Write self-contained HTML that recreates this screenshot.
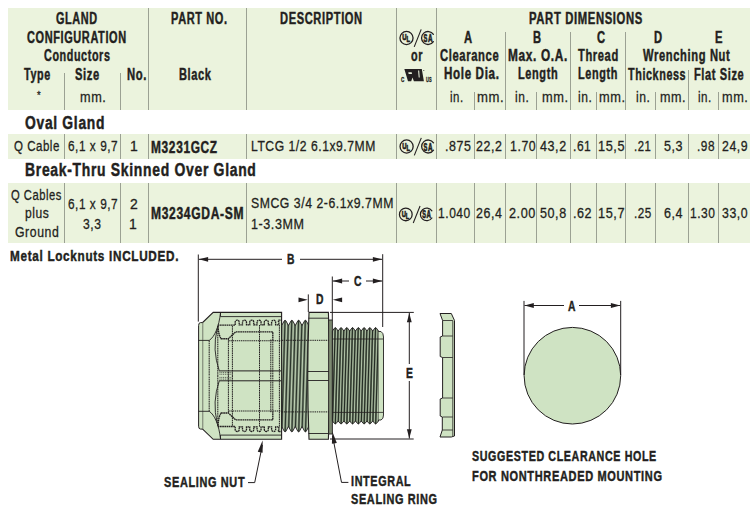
<!DOCTYPE html>
<html><head><meta charset="utf-8"><style>
html,body{margin:0;padding:0;background:#fff;width:756px;height:514px;overflow:hidden;position:relative}
body{font-family:"Liberation Sans",sans-serif;color:#231f20}
.t{position:absolute;white-space:nowrap;line-height:1;transform-origin:0 0;color:#231f20;-webkit-text-stroke:0.3px #231f20}
.t.b{-webkit-text-stroke:0.45px #231f20}
.bg{position:absolute;background:#ebf3dd}
.vl{position:absolute;width:1.2px;background:#9ba193}
svg{position:absolute;left:0;top:0}
</style></head><body>
<div class="bg" style="left:8px;top:8px;width:742px;height:102px"></div>
<div class="bg" style="left:8px;top:134px;width:742px;height:24.5px"></div>
<div class="bg" style="left:8px;top:183px;width:742px;height:59.5px"></div>
<div class="vl" style="left:64.0px;top:73px;height:37.0px"></div>
<div class="vl" style="left:120.1px;top:73px;height:37.0px"></div>
<div class="vl" style="left:148.0px;top:8px;height:102.0px"></div>
<div class="vl" style="left:246.0px;top:8px;height:102.0px"></div>
<div class="vl" style="left:396.1px;top:8px;height:102.0px"></div>
<div class="vl" style="left:436.1px;top:8px;height:102.0px"></div>
<div class="vl" style="left:473.5px;top:92px;height:18.0px"></div>
<div class="vl" style="left:504.7px;top:31.5px;height:78.5px"></div>
<div class="vl" style="left:535.8px;top:92px;height:18.0px"></div>
<div class="vl" style="left:569.9px;top:31.5px;height:78.5px"></div>
<div class="vl" style="left:595.5px;top:92px;height:18.0px"></div>
<div class="vl" style="left:625.1px;top:31.5px;height:78.5px"></div>
<div class="vl" style="left:654.5px;top:92px;height:18.0px"></div>
<div class="vl" style="left:687.7px;top:69.5px;height:40.5px"></div>
<div class="vl" style="left:717.5px;top:92px;height:18.0px"></div>
<div class="vl" style="left:64.0px;top:134px;height:24.5px"></div>
<div class="vl" style="left:64.0px;top:183px;height:59.5px"></div>
<div class="vl" style="left:120.1px;top:134px;height:24.5px"></div>
<div class="vl" style="left:120.1px;top:183px;height:59.5px"></div>
<div class="vl" style="left:148.0px;top:134px;height:24.5px"></div>
<div class="vl" style="left:148.0px;top:183px;height:59.5px"></div>
<div class="vl" style="left:246.0px;top:134px;height:24.5px"></div>
<div class="vl" style="left:246.0px;top:183px;height:59.5px"></div>
<div class="vl" style="left:396.1px;top:134px;height:24.5px"></div>
<div class="vl" style="left:396.1px;top:183px;height:59.5px"></div>
<div class="vl" style="left:436.1px;top:134px;height:24.5px"></div>
<div class="vl" style="left:436.1px;top:183px;height:59.5px"></div>
<div class="vl" style="left:473.5px;top:134px;height:24.5px"></div>
<div class="vl" style="left:473.5px;top:183px;height:59.5px"></div>
<div class="vl" style="left:504.7px;top:134px;height:24.5px"></div>
<div class="vl" style="left:504.7px;top:183px;height:59.5px"></div>
<div class="vl" style="left:535.8px;top:134px;height:24.5px"></div>
<div class="vl" style="left:535.8px;top:183px;height:59.5px"></div>
<div class="vl" style="left:569.9px;top:134px;height:24.5px"></div>
<div class="vl" style="left:569.9px;top:183px;height:59.5px"></div>
<div class="vl" style="left:595.5px;top:134px;height:24.5px"></div>
<div class="vl" style="left:595.5px;top:183px;height:59.5px"></div>
<div class="vl" style="left:625.1px;top:134px;height:24.5px"></div>
<div class="vl" style="left:625.1px;top:183px;height:59.5px"></div>
<div class="vl" style="left:654.5px;top:134px;height:24.5px"></div>
<div class="vl" style="left:654.5px;top:183px;height:59.5px"></div>
<div class="vl" style="left:687.7px;top:134px;height:24.5px"></div>
<div class="vl" style="left:687.7px;top:183px;height:59.5px"></div>
<div class="vl" style="left:717.5px;top:134px;height:24.5px"></div>
<div class="vl" style="left:717.5px;top:183px;height:59.5px"></div>
<svg width="756" height="514" viewBox="0 0 756 514">
<g transform="translate(406.5,38.0) scale(1.0)"><circle cx="0" cy="0" r="6.55" stroke-width="1.3" fill="none" stroke="#231f20"/><text transform="translate(-4.3,2.4) scale(0.62,1)" font-family="Liberation Sans" font-weight="bold" font-size="9.6" fill="#231f20" stroke="#231f20" stroke-width="0.7">U</text><text transform="translate(0.0,4.3) scale(0.6,1)" font-family="Liberation Sans" font-weight="bold" font-size="9.6" fill="#231f20" stroke="#231f20" stroke-width="0.7">L</text><path d="M14.7,-8.6 L7.7,8.9" stroke-width="1.1" fill="none" stroke="#231f20"/><path d="M26.9,-3.7 A6.5,6.5 0 1 0 26.9,3.7" stroke-width="1.3" stroke-linecap="round" fill="none" stroke="#231f20"/><text transform="translate(17.0,4.0) scale(0.5,1)" font-family="Liberation Sans" font-weight="bold" font-size="11.5" fill="#231f20" stroke="#231f20" stroke-width="0.7">S</text><text transform="translate(21.4,4.0) scale(0.55,1)" font-family="Liberation Sans" font-weight="bold" font-size="11.5" fill="#231f20" stroke="#231f20" stroke-width="0.7">A</text></g>
<path d="M404.35,69 H421.8 L423.9,81.2 H413.9 L412.5,77.5 L411.2,81.2 H408 Z" fill="#231f20"/><path d="M408.3,72.2 H411.6 Q412.3,73.1 411.8,74.1 H408.6 Z M418.1,70.6 H419.2 L419.7,77.5 H418.7 Z" fill="#ebf3dd"/><circle cx="423.8" cy="70.4" r="0.5" fill="#231f20"/><text x="401.2" y="81.6" font-family="Liberation Sans" font-weight="bold" font-size="7.3" fill="#231f20" stroke="#231f20" stroke-width="0.35" transform="translate(401,0) scale(0.62,1) translate(-401,0)">C</text><text x="426.2" y="81.6" font-family="Liberation Sans" font-weight="bold" font-size="7.3" fill="#231f20" stroke="#231f20" stroke-width="0.3" transform="translate(426,0) scale(0.55,1) translate(-426,0)">US</text>
<g transform="translate(406.6,146.5) scale(1.0)"><circle cx="0" cy="0" r="6.55" stroke-width="1.3" fill="none" stroke="#231f20"/><text transform="translate(-4.3,2.4) scale(0.62,1)" font-family="Liberation Sans" font-weight="bold" font-size="9.6" fill="#231f20" stroke="#231f20" stroke-width="0.7">U</text><text transform="translate(0.0,4.3) scale(0.6,1)" font-family="Liberation Sans" font-weight="bold" font-size="9.6" fill="#231f20" stroke="#231f20" stroke-width="0.7">L</text><path d="M14.7,-8.6 L7.7,8.9" stroke-width="1.1" fill="none" stroke="#231f20"/><path d="M26.9,-3.7 A6.5,6.5 0 1 0 26.9,3.7" stroke-width="1.3" stroke-linecap="round" fill="none" stroke="#231f20"/><text transform="translate(17.0,4.0) scale(0.5,1)" font-family="Liberation Sans" font-weight="bold" font-size="11.5" fill="#231f20" stroke="#231f20" stroke-width="0.7">S</text><text transform="translate(21.4,4.0) scale(0.55,1)" font-family="Liberation Sans" font-weight="bold" font-size="11.5" fill="#231f20" stroke="#231f20" stroke-width="0.7">A</text></g>
<g transform="translate(405.8,214.4) scale(0.97)"><circle cx="0" cy="0" r="6.55" stroke-width="1.3" fill="none" stroke="#231f20"/><text transform="translate(-4.3,2.4) scale(0.62,1)" font-family="Liberation Sans" font-weight="bold" font-size="9.6" fill="#231f20" stroke="#231f20" stroke-width="0.7">U</text><text transform="translate(0.0,4.3) scale(0.6,1)" font-family="Liberation Sans" font-weight="bold" font-size="9.6" fill="#231f20" stroke="#231f20" stroke-width="0.7">L</text><path d="M14.7,-8.6 L7.7,8.9" stroke-width="1.1" fill="none" stroke="#231f20"/><path d="M26.9,-3.7 A6.5,6.5 0 1 0 26.9,3.7" stroke-width="1.3" stroke-linecap="round" fill="none" stroke="#231f20"/><text transform="translate(17.0,4.0) scale(0.5,1)" font-family="Liberation Sans" font-weight="bold" font-size="11.5" fill="#231f20" stroke="#231f20" stroke-width="0.7">S</text><text transform="translate(21.4,4.0) scale(0.55,1)" font-family="Liberation Sans" font-weight="bold" font-size="11.5" fill="#231f20" stroke="#231f20" stroke-width="0.7">A</text></g>
<path d="M213.2,312.4 H281.6 V439.3 H213.2 L202.6,429.1 V322.6 Z" fill="#cfe3c3" stroke="#231f20" stroke-width="1.1"/>
<path d="M202.6,322.6 H200.6 Q198.6,322.6 198.6,325.5 V426.2 Q198.6,429.1 200.6,429.1 H202.6" fill="#cfe3c3" stroke="#231f20" stroke-width="1"/>
<g><path d="M220.5,312.6 V316.6 H281.6" fill="none" stroke="#231f20" stroke-width="0.9"/><path d="M198.6,340.4 H209.2 C214.5,337 219,327 220.5,312.6" fill="none" stroke="#231f20" stroke-width="0.9"/><path d="M217.8,325.2 H235.2 V322 Q235.39999999999998,320.2 237.2,320.2 Q239.0,320.2 239.2,322 V324.8 H242.48 V322 Q242.67999999999998,320.2 244.48,320.2 Q246.28,320.2 246.48,322 V324.8 H249.76 V322 Q249.95999999999998,320.2 251.76,320.2 Q253.56,320.2 253.76,322 V324.8 H257.03999999999996 V322 Q257.23999999999995,320.2 259.03999999999996,320.2 Q260.84,320.2 261.03999999999996,322 V324.8 H264.31999999999994 V322 Q264.5199999999999,320.2 266.31999999999994,320.2 Q268.11999999999995,320.2 268.31999999999994,322 V324.8 H271.5999999999999 V322 Q271.7999999999999,320.2 273.5999999999999,320.2 Q275.3999999999999,320.2 275.5999999999999,322 V324.8 H278.8799999999999 V322 Q277.4,320.2 279.2,320.2 H281.6" fill="none" stroke="#231f20" stroke-width="1.3" stroke-dasharray="1.7,0.5"/><path d="M218,325.9 Q218.5,335 221.1,338.7 H228.4 L235.7,331.8 H272.8 V339.8" fill="none" stroke="#231f20" stroke-width="1.35" stroke-dasharray="1.7,0.5"/><path d="M228.4,340.7 H281.6" fill="none" stroke="#231f20" stroke-width="1.1" stroke-dasharray="1.4,0.7"/><path d="M209.2,340.4 V375.9 M217.8,326 V375.9 M228.4,339 V375.9 M232.4,326 V375.9 M259.5,325 V375.9 M270.8,339.5 V375.9 M272.8,339.5 V375.9 M279.4,325 V375.9" fill="none" stroke="#231f20" stroke-width="1" stroke-dasharray="1.6,0.6"/><path d="M217.2,328.5 Q212,350 219.2,370.6" fill="none" stroke="#231f20" stroke-width="0.9"/><path d="M219,370.9 H281.6" fill="none" stroke="#231f20" stroke-width="1"/><path d="M219.5,372.6 H232.4 M219.5,374.3 H232.4" fill="none" stroke="#231f20" stroke-width="0.7" stroke-dasharray="1,0.8"/></g>
<g transform="matrix(1,0,0,-1,0,751.7)"><path d="M220.5,312.6 V316.6 H281.6" fill="none" stroke="#231f20" stroke-width="0.9"/><path d="M198.6,340.4 H209.2 C214.5,337 219,327 220.5,312.6" fill="none" stroke="#231f20" stroke-width="0.9"/><path d="M217.8,325.2 H235.2 V322 Q235.39999999999998,320.2 237.2,320.2 Q239.0,320.2 239.2,322 V324.8 H242.48 V322 Q242.67999999999998,320.2 244.48,320.2 Q246.28,320.2 246.48,322 V324.8 H249.76 V322 Q249.95999999999998,320.2 251.76,320.2 Q253.56,320.2 253.76,322 V324.8 H257.03999999999996 V322 Q257.23999999999995,320.2 259.03999999999996,320.2 Q260.84,320.2 261.03999999999996,322 V324.8 H264.31999999999994 V322 Q264.5199999999999,320.2 266.31999999999994,320.2 Q268.11999999999995,320.2 268.31999999999994,322 V324.8 H271.5999999999999 V322 Q271.7999999999999,320.2 273.5999999999999,320.2 Q275.3999999999999,320.2 275.5999999999999,322 V324.8 H278.8799999999999 V322 Q277.4,320.2 279.2,320.2 H281.6" fill="none" stroke="#231f20" stroke-width="1.3" stroke-dasharray="1.7,0.5"/><path d="M218,325.9 Q218.5,335 221.1,338.7 H228.4 L235.7,331.8 H272.8 V339.8" fill="none" stroke="#231f20" stroke-width="1.35" stroke-dasharray="1.7,0.5"/><path d="M228.4,340.7 H281.6" fill="none" stroke="#231f20" stroke-width="1.1" stroke-dasharray="1.4,0.7"/><path d="M209.2,340.4 V375.9 M217.8,326 V375.9 M228.4,339 V375.9 M232.4,326 V375.9 M259.5,325 V375.9 M270.8,339.5 V375.9 M272.8,339.5 V375.9 M279.4,325 V375.9" fill="none" stroke="#231f20" stroke-width="1" stroke-dasharray="1.6,0.6"/><path d="M217.2,328.5 Q212,350 219.2,370.6" fill="none" stroke="#231f20" stroke-width="0.9"/><path d="M219,370.9 H281.6" fill="none" stroke="#231f20" stroke-width="1"/><path d="M219.5,372.6 H232.4 M219.5,374.3 H232.4" fill="none" stroke="#231f20" stroke-width="0.7" stroke-dasharray="1,0.8"/></g>
<clipPath id="c281"><path d="M281.7,325.5 L284.41,320.6 Q285.09,320.0 285.76,320.6 L288.48,325.5 L291.19,320.6 Q291.86,320.0 292.54,320.6 L295.25,325.5 L297.96,320.6 Q298.64,320.0 299.31,320.6 L302.02,325.5 L304.73,320.6 Q305.41,320.0 306.09,320.6 L308.80,325.5 L308.8,426.5 L306.09,431.5 Q305.41,432.1 304.74,431.5 L302.02,426.5 L299.31,431.5 Q298.64,432.1 297.96,431.5 L295.25,426.5 L292.54,431.5 Q291.86,432.1 291.19,431.5 L288.48,426.5 L285.77,431.5 Q285.09,432.1 284.41,431.5 L281.70,426.5 Z"/></clipPath><path d="M281.7,325.5 L284.41,320.6 Q285.09,320.0 285.76,320.6 L288.48,325.5 L291.19,320.6 Q291.86,320.0 292.54,320.6 L295.25,325.5 L297.96,320.6 Q298.64,320.0 299.31,320.6 L302.02,325.5 L304.73,320.6 Q305.41,320.0 306.09,320.6 L308.80,325.5 L308.8,426.5 L306.09,431.5 Q305.41,432.1 304.74,431.5 L302.02,426.5 L299.31,431.5 Q298.64,432.1 297.96,431.5 L295.25,426.5 L292.54,431.5 Q291.86,432.1 291.19,431.5 L288.48,426.5 L285.77,431.5 Q285.09,432.1 284.41,431.5 L281.70,426.5 Z" fill="#76856f"/><g clip-path="url(#c281)"><path d=" M273.23,318.3 L269.84,433.8 M276.62,318.3 L273.23,433.8 M280.01,318.3 L276.62,433.8 M283.39,318.3 L280.01,433.8 M286.78,318.3 L283.39,433.8 M290.17,318.3 L286.78,433.8 M293.56,318.3 L290.17,433.8 M296.94,318.3 L293.56,433.8 M300.33,318.3 L296.94,433.8 M303.72,318.3 L300.33,433.8 M307.11,318.3 L303.72,433.8 M310.49,318.3 L307.11,433.8 M313.88,318.3 L310.49,433.8 M317.27,318.3 L313.88,433.8 M320.66,318.3 L317.27,433.8 M324.04,318.3 L320.66,433.8" stroke="#cfe2c5" stroke-width="0.8" fill="none"/><path d=" M271.54,318.3 L268.15,433.8 M274.92,318.3 L271.54,433.8 M278.31,318.3 L274.92,433.8 M281.70,318.3 L278.31,433.8 M285.09,318.3 L281.70,433.8 M288.47,318.3 L285.09,433.8 M291.86,318.3 L288.48,433.8 M295.25,318.3 L291.86,433.8 M298.64,318.3 L295.25,433.8 M302.02,318.3 L298.64,433.8 M305.41,318.3 L302.02,433.8 M308.80,318.3 L305.41,433.8 M312.19,318.3 L308.80,433.8 M315.57,318.3 L312.19,433.8 M318.96,318.3 L315.58,433.8 M322.35,318.3 L318.96,433.8" stroke="#29332a" stroke-width="1" fill="none"/></g><path d="M281.7,325.5 L284.41,320.6 Q285.09,320.0 285.76,320.6 L288.48,325.5 L291.19,320.6 Q291.86,320.0 292.54,320.6 L295.25,325.5 L297.96,320.6 Q298.64,320.0 299.31,320.6 L302.02,325.5 L304.73,320.6 Q305.41,320.0 306.09,320.6 L308.80,325.5 L308.8,426.5 L306.09,431.5 Q305.41,432.1 304.74,431.5 L302.02,426.5 L299.31,431.5 Q298.64,432.1 297.96,431.5 L295.25,426.5 L292.54,431.5 Q291.86,432.1 291.19,431.5 L288.48,426.5 L285.77,431.5 Q285.09,432.1 284.41,431.5 L281.70,426.5 Z" fill="none" stroke="#231f20" stroke-width="0.9" stroke-linejoin="round"/>
<path d="M309,312.4 H328.4 Q331,376 328.4,439.3 H309 Q306.5,376 309,312.4 Z" fill="#cfe3c3" stroke="#231f20" stroke-width="1.1"/>
<path d="M308.5,318.2 H329 M308.5,433.5 H329 M308,371.5 H330 M308,380.5 H330" fill="none" stroke="#231f20" stroke-width="0.9"/>
<path d="M281.6,340.3 H332 M281.6,411.9 H332" fill="none" stroke="#231f20" stroke-width="1" stroke-dasharray="1.4,0.8"/>
<path d="M328.6,320 H332.4 V434 H328.6 Z" fill="#7d8a72" stroke="#231f20" stroke-width="0.9"/>
<clipPath id="c332"><path d="M332.4,331 L334.70,327.90000000000003 Q335.28,327.3 335.86,327.90000000000003 L338.16,331 L340.47,327.90000000000003 Q341.04,327.3 341.62,327.90000000000003 L343.92,331 L346.23,327.90000000000003 Q346.81,327.3 347.38,327.90000000000003 L349.69,331 L351.99,327.90000000000003 Q352.57,327.3 353.14,327.90000000000003 L355.45,331 L357.75,327.90000000000003 Q358.33,327.3 358.91,327.90000000000003 L361.21,331 L363.52,327.90000000000003 Q364.09,327.3 364.67,327.90000000000003 L366.97,331 L369.28,327.90000000000003 Q369.86,327.3 370.43,327.90000000000003 L372.74,331 L375.04,327.90000000000003 Q375.62,327.3 376.19,327.90000000000003 L378.50,331 L378.5,421 L376.19,423.7 Q375.62,424.3 375.04,423.7 L372.74,421 L370.43,423.7 Q369.86,424.3 369.28,423.7 L366.98,421 L364.67,423.7 Q364.09,424.3 363.52,423.7 L361.21,421 L358.91,423.7 Q358.33,424.3 357.75,423.7 L355.45,421 L353.14,423.7 Q352.57,424.3 351.99,423.7 L349.69,421 L347.38,423.7 Q346.81,424.3 346.23,423.7 L343.93,421 L341.62,423.7 Q341.04,424.3 340.47,423.7 L338.16,421 L335.86,423.7 Q335.28,424.3 334.70,423.7 L332.40,421 Z"/></clipPath><path d="M332.4,331 L334.70,327.90000000000003 Q335.28,327.3 335.86,327.90000000000003 L338.16,331 L340.47,327.90000000000003 Q341.04,327.3 341.62,327.90000000000003 L343.92,331 L346.23,327.90000000000003 Q346.81,327.3 347.38,327.90000000000003 L349.69,331 L351.99,327.90000000000003 Q352.57,327.3 353.14,327.90000000000003 L355.45,331 L357.75,327.90000000000003 Q358.33,327.3 358.91,327.90000000000003 L361.21,331 L363.52,327.90000000000003 Q364.09,327.3 364.67,327.90000000000003 L366.97,331 L369.28,327.90000000000003 Q369.86,327.3 370.43,327.90000000000003 L372.74,331 L375.04,327.90000000000003 Q375.62,327.3 376.19,327.90000000000003 L378.50,331 L378.5,421 L376.19,423.7 Q375.62,424.3 375.04,423.7 L372.74,421 L370.43,423.7 Q369.86,424.3 369.28,423.7 L366.98,421 L364.67,423.7 Q364.09,424.3 363.52,423.7 L361.21,421 L358.91,423.7 Q358.33,424.3 357.75,423.7 L355.45,421 L353.14,423.7 Q352.57,424.3 351.99,423.7 L349.69,421 L347.38,423.7 Q346.81,424.3 346.23,423.7 L343.93,421 L341.62,423.7 Q341.04,424.3 340.47,423.7 L338.16,421 L335.86,423.7 Q335.28,424.3 334.70,423.7 L332.40,421 Z" fill="#66745f"/><g clip-path="url(#c332)"><path d=" M325.20,325.6 L322.32,426 M328.08,325.6 L325.20,426 M330.96,325.6 L328.08,426 M333.84,325.6 L330.96,426 M336.72,325.6 L333.84,426 M339.60,325.6 L336.72,426 M342.48,325.6 L339.60,426 M345.37,325.6 L342.48,426 M348.25,325.6 L345.37,426 M351.13,325.6 L348.25,426 M354.01,325.6 L351.13,426 M356.89,325.6 L354.01,426 M359.77,325.6 L356.89,426 M362.65,325.6 L359.77,426 M365.53,325.6 L362.65,426 M368.42,325.6 L365.53,426 M371.30,325.6 L368.42,426 M374.18,325.6 L371.30,426 M377.06,325.6 L374.18,426 M379.94,325.6 L377.06,426 M382.82,325.6 L379.94,426 M385.70,325.6 L382.82,426 M388.58,325.6 L385.70,426 M391.47,325.6 L388.58,426" stroke="#c4d7ba" stroke-width="0.8" fill="none"/><path d=" M323.76,325.6 L320.88,426 M326.64,325.6 L323.76,426 M329.52,325.6 L326.64,426 M332.40,325.6 L329.52,426 M335.28,325.6 L332.40,426 M338.16,325.6 L335.28,426 M341.04,325.6 L338.16,426 M343.93,325.6 L341.04,426 M346.81,325.6 L343.92,426 M349.69,325.6 L346.81,426 M352.57,325.6 L349.69,426 M355.45,325.6 L352.57,426 M358.33,325.6 L355.45,426 M361.21,325.6 L358.33,426 M364.09,325.6 L361.21,426 M366.98,325.6 L364.09,426 M369.86,325.6 L366.98,426 M372.74,325.6 L369.86,426 M375.62,325.6 L372.74,426 M378.50,325.6 L375.62,426 M381.38,325.6 L378.50,426 M384.26,325.6 L381.38,426 M387.14,325.6 L384.26,426 M390.03,325.6 L387.14,426" stroke="#222a22" stroke-width="1" fill="none"/></g><path d="M332.4,331 L334.70,327.90000000000003 Q335.28,327.3 335.86,327.90000000000003 L338.16,331 L340.47,327.90000000000003 Q341.04,327.3 341.62,327.90000000000003 L343.92,331 L346.23,327.90000000000003 Q346.81,327.3 347.38,327.90000000000003 L349.69,331 L351.99,327.90000000000003 Q352.57,327.3 353.14,327.90000000000003 L355.45,331 L357.75,327.90000000000003 Q358.33,327.3 358.91,327.90000000000003 L361.21,331 L363.52,327.90000000000003 Q364.09,327.3 364.67,327.90000000000003 L366.97,331 L369.28,327.90000000000003 Q369.86,327.3 370.43,327.90000000000003 L372.74,331 L375.04,327.90000000000003 Q375.62,327.3 376.19,327.90000000000003 L378.50,331 L378.5,421 L376.19,423.7 Q375.62,424.3 375.04,423.7 L372.74,421 L370.43,423.7 Q369.86,424.3 369.28,423.7 L366.98,421 L364.67,423.7 Q364.09,424.3 363.52,423.7 L361.21,421 L358.91,423.7 Q358.33,424.3 357.75,423.7 L355.45,421 L353.14,423.7 Q352.57,424.3 351.99,423.7 L349.69,421 L347.38,423.7 Q346.81,424.3 346.23,423.7 L343.93,421 L341.62,423.7 Q341.04,424.3 340.47,423.7 L338.16,421 L335.86,423.7 Q335.28,424.3 334.70,423.7 L332.40,421 Z" fill="none" stroke="#231f20" stroke-width="0.9" stroke-linejoin="round"/>
<path d="M378.5,331.5 H381 Q383.5,333 383.5,337 V415 Q383.5,419 381,420 H378.5" fill="#cfe3c3" stroke="#231f20" stroke-width="0.9"/>
<path d="M332.4,339 H383 M332.4,412.4 H383" fill="none" stroke="#231f20" stroke-width="0.8"/>
<path d="M440,313.5 H451.3 L454.5,320.5 V436 L451.3,437 H440 L442.3,430 V417 L440.2,416 V399 L442.6,398 V357.5 L440.2,356.5 V337 L442.6,336 V320.5 Z" fill="#cfe3c3" stroke="#231f20" stroke-width="1"/>
<path d="M442.6,320.5 H452.8 M442.6,336 H452.8 M442.6,357.5 H452.8 M442.6,398 H452.8 M442.6,417 H452.8 M442.3,430 H452.8 M452.8,320.5 V436" fill="none" stroke="#231f20" stroke-width="0.8"/>
<circle cx="572.4" cy="375.7" r="48.3" fill="#cfe3c3" stroke="#231f20" stroke-width="1"/>
<path d="M198.3,254.5 V321.6 M198.8,259.3 H282 M300,259.3 H382.2 M382.7,254.2 V327 M332.3,276.5 V320 M332.8,281 H349 M366,281 H382.2 M308.3,294.4 V312 M330,312.4 H413.8 M330,439 H413.7 M409.3,313 V364 M409.3,381 V438.5 M524,300.9 V375 M620.7,300.9 V375 M524.5,305.5 H564 M579,305.5 H620.2 M248,482.6 H254.7 L262.4,445 M348.4,482.4 H341.5 L332.6,436" fill="none" stroke="#231f20" stroke-width="1"/>
<path d="M198.80,259.30 L208.10,256.90 L208.10,261.70 Z" fill="#231f20"/><path d="M382.20,259.30 L372.90,261.70 L372.90,256.90 Z" fill="#231f20"/><path d="M332.80,281.00 L342.10,278.60 L342.10,283.40 Z" fill="#231f20"/><path d="M382.20,281.00 L372.90,283.40 L372.90,278.60 Z" fill="#231f20"/><path d="M307.80,299.80 L298.50,302.20 L298.50,297.40 Z" fill="#231f20"/><path d="M332.80,299.80 L342.10,297.40 L342.10,302.20 Z" fill="#231f20"/><path d="M409.30,312.90 L411.70,322.20 L406.90,322.20 Z" fill="#231f20"/><path d="M409.30,438.50 L406.90,429.20 L411.70,429.20 Z" fill="#231f20"/><path d="M524.50,305.50 L533.80,303.10 L533.80,307.90 Z" fill="#231f20"/><path d="M620.20,305.50 L610.90,307.90 L610.90,303.10 Z" fill="#231f20"/><path d="M262.60,440.50 L262.64,452.76 L257.74,451.75 Z" fill="#231f20"/><path d="M332.30,431.50 L336.83,442.89 L331.90,443.75 Z" fill="#231f20"/>
</svg>
<div class="t b" style="left:55.60px;top:11.36px;font-size:16px;font-weight:bold;letter-spacing:0.9px;transform:scaleX(0.680)">GLAND</div>
<div class="t b" style="left:26.80px;top:30.16px;font-size:16px;font-weight:bold;letter-spacing:0.9px;transform:scaleX(0.685)">CONFIGURATION</div>
<div class="t b" style="left:43.70px;top:48.36px;font-size:16px;font-weight:bold;letter-spacing:0.9px;transform:scaleX(0.673)">Conductors</div>
<div class="t b" style="left:23.90px;top:66.56px;font-size:16px;font-weight:bold;letter-spacing:0.9px;transform:scaleX(0.674)">Type</div>
<div class="t b" style="left:75.10px;top:66.56px;font-size:16px;font-weight:bold;letter-spacing:0.9px;transform:scaleX(0.697)">Size</div>
<div class="t b" style="left:126.50px;top:66.56px;font-size:16px;font-weight:bold;letter-spacing:0.9px;transform:scaleX(0.704)">No.</div>
<div class="t" style="left:36.53px;top:89.89px;font-size:11px;font-weight:normal;letter-spacing:0.7px;transform:scaleX(0.850)">*</div>
<div class="t" style="left:79.80px;top:89.38px;font-size:15.5px;font-weight:normal;letter-spacing:0.7px;transform:scaleX(0.818)">mm.</div>
<div class="t b" style="left:170.50px;top:11.16px;font-size:16px;font-weight:bold;letter-spacing:0.9px;transform:scaleX(0.688)">PART NO.</div>
<div class="t b" style="left:178.80px;top:67.16px;font-size:16px;font-weight:bold;letter-spacing:0.9px;transform:scaleX(0.691)">Black</div>
<div class="t b" style="left:280.20px;top:11.46px;font-size:16px;font-weight:bold;letter-spacing:0.9px;transform:scaleX(0.694)">DESCRIPTION</div>
<div class="t b" style="left:411.20px;top:47.86px;font-size:16px;font-weight:bold;letter-spacing:0.9px;transform:scaleX(0.675)">or</div>
<div class="t b" style="left:528.90px;top:11.36px;font-size:16px;font-weight:bold;letter-spacing:0.9px;transform:scaleX(0.705)">PART DIMENSIONS</div>
<div class="t b" style="left:464.20px;top:29.76px;font-size:16px;font-weight:bold;letter-spacing:0.9px;transform:scaleX(0.700)">A</div>
<div class="t b" style="left:440.20px;top:47.96px;font-size:16px;font-weight:bold;letter-spacing:0.9px;transform:scaleX(0.701)">Clearance</div>
<div class="t b" style="left:444.00px;top:66.36px;font-size:16px;font-weight:bold;letter-spacing:0.9px;transform:scaleX(0.725)">Hole Dia.</div>
<div class="t" style="left:450.40px;top:88.68px;font-size:15.5px;font-weight:normal;letter-spacing:0.7px;transform:scaleX(0.738)">in.</div>
<div class="t" style="left:476.60px;top:88.68px;font-size:15.5px;font-weight:normal;letter-spacing:0.7px;transform:scaleX(0.846)">mm.</div>
<div class="t b" style="left:533.45px;top:29.76px;font-size:16px;font-weight:bold;letter-spacing:0.9px;transform:scaleX(0.700)">B</div>
<div class="t b" style="left:508.40px;top:47.96px;font-size:16px;font-weight:bold;letter-spacing:0.9px;transform:scaleX(0.739)">Max. O.A.</div>
<div class="t b" style="left:517.50px;top:66.36px;font-size:16px;font-weight:bold;letter-spacing:0.9px;transform:scaleX(0.685)">Length</div>
<div class="t" style="left:515.40px;top:88.68px;font-size:15.5px;font-weight:normal;letter-spacing:0.7px;transform:scaleX(0.772)">in.</div>
<div class="t" style="left:542.20px;top:88.68px;font-size:15.5px;font-weight:normal;letter-spacing:0.7px;transform:scaleX(0.827)">mm.</div>
<div class="t b" style="left:597.10px;top:29.76px;font-size:16px;font-weight:bold;letter-spacing:0.9px;transform:scaleX(0.700)">C</div>
<div class="t b" style="left:578.20px;top:47.96px;font-size:16px;font-weight:bold;letter-spacing:0.9px;transform:scaleX(0.695)">Thread</div>
<div class="t b" style="left:577.60px;top:66.36px;font-size:16px;font-weight:bold;letter-spacing:0.9px;transform:scaleX(0.680)">Length</div>
<div class="t" style="left:578.20px;top:88.68px;font-size:15.5px;font-weight:normal;letter-spacing:0.7px;transform:scaleX(0.777)">in.</div>
<div class="t" style="left:598.70px;top:88.68px;font-size:15.5px;font-weight:normal;letter-spacing:0.7px;transform:scaleX(0.827)">mm.</div>
<div class="t b" style="left:654.05px;top:29.76px;font-size:16px;font-weight:bold;letter-spacing:0.9px;transform:scaleX(0.700)">D</div>
<div class="t b" style="left:643.40px;top:48.06px;font-size:16px;font-weight:bold;letter-spacing:0.9px;transform:scaleX(0.698)">Wrenching Nut</div>
<div class="t b" style="left:628.30px;top:66.96px;font-size:16px;font-weight:bold;letter-spacing:0.9px;transform:scaleX(0.674)">Thickness</div>
<div class="t" style="left:635.50px;top:88.68px;font-size:15.5px;font-weight:normal;letter-spacing:0.7px;transform:scaleX(0.783)">in.</div>
<div class="t" style="left:660.30px;top:88.68px;font-size:15.5px;font-weight:normal;letter-spacing:0.7px;transform:scaleX(0.811)">mm.</div>
<div class="t b" style="left:715.21px;top:29.76px;font-size:16px;font-weight:bold;letter-spacing:0.9px;transform:scaleX(0.700)">E</div>
<div class="t b" style="left:694.40px;top:66.96px;font-size:16px;font-weight:bold;letter-spacing:0.9px;transform:scaleX(0.689)">Flat Size</div>
<div class="t" style="left:698.40px;top:88.68px;font-size:15.5px;font-weight:normal;letter-spacing:0.7px;transform:scaleX(0.749)">in.</div>
<div class="t" style="left:722.20px;top:88.68px;font-size:15.5px;font-weight:normal;letter-spacing:0.7px;transform:scaleX(0.821)">mm.</div>
<div class="t b" style="left:24.50px;top:113.76px;font-size:18px;font-weight:bold;letter-spacing:0.9px;transform:scaleX(0.770)">Oval Gland</div>
<div class="t b" style="left:24.50px;top:161.06px;font-size:18px;font-weight:bold;letter-spacing:0.9px;transform:scaleX(0.774)">Break-Thru Skinned Over Gland</div>
<div class="t b" style="left:9.60px;top:248.43px;font-size:15.2px;font-weight:bold;letter-spacing:0.9px;transform:scaleX(0.772)">Metal Locknuts INCLUDED.</div>
<div class="t" style="left:14.00px;top:138.48px;font-size:15.5px;font-weight:normal;letter-spacing:0.7px;transform:scaleX(0.742)">Q Cable</div>
<div class="t" style="left:67.50px;top:138.48px;font-size:15.5px;font-weight:normal;letter-spacing:0.7px;transform:scaleX(0.763)">6,1 x 9,7</div>
<div class="t" style="left:129.78px;top:138.48px;font-size:15.5px;font-weight:normal;letter-spacing:0.7px;transform:scaleX(0.900)">1</div>
<div class="t b" style="left:150.90px;top:139.66px;font-size:16px;font-weight:bold;letter-spacing:0.9px;transform:scaleX(0.743)">M3231GCZ</div>
<div class="t" style="left:251.10px;top:138.18px;font-size:15.5px;font-weight:normal;letter-spacing:0.7px;transform:scaleX(0.782)">LTCG 1/2 6.1x9.7MM</div>
<div class="t" style="left:444.50px;top:138.18px;font-size:15.5px;font-weight:normal;letter-spacing:0.7px;transform:scaleX(0.802)">.875</div>
<div class="t" style="left:476.20px;top:138.18px;font-size:15.5px;font-weight:normal;letter-spacing:0.7px;transform:scaleX(0.802)">22,2</div>
<div class="t" style="left:509.50px;top:138.18px;font-size:15.5px;font-weight:normal;letter-spacing:0.7px;transform:scaleX(0.796)">1.70</div>
<div class="t" style="left:540.00px;top:138.18px;font-size:15.5px;font-weight:normal;letter-spacing:0.7px;transform:scaleX(0.811)">43,2</div>
<div class="t" style="left:573.00px;top:138.18px;font-size:15.5px;font-weight:normal;letter-spacing:0.7px;transform:scaleX(0.776)">.61</div>
<div class="t" style="left:597.90px;top:138.18px;font-size:15.5px;font-weight:normal;letter-spacing:0.7px;transform:scaleX(0.821)">15,5</div>
<div class="t" style="left:633.50px;top:138.18px;font-size:15.5px;font-weight:normal;letter-spacing:0.7px;transform:scaleX(0.732)">.21</div>
<div class="t" style="left:663.90px;top:138.18px;font-size:15.5px;font-weight:normal;letter-spacing:0.7px;transform:scaleX(0.811)">5,3</div>
<div class="t" style="left:697.00px;top:138.18px;font-size:15.5px;font-weight:normal;letter-spacing:0.7px;transform:scaleX(0.763)">.98</div>
<div class="t" style="left:721.50px;top:138.18px;font-size:15.5px;font-weight:normal;letter-spacing:0.7px;transform:scaleX(0.793)">24,9</div>
<div class="t" style="left:11.30px;top:186.98px;font-size:15.5px;font-weight:normal;letter-spacing:0.7px;transform:scaleX(0.724)">Q Cables</div>
<div class="t" style="left:24.50px;top:205.48px;font-size:15.5px;font-weight:normal;letter-spacing:0.7px;transform:scaleX(0.779)">plus</div>
<div class="t" style="left:14.60px;top:224.38px;font-size:15.5px;font-weight:normal;letter-spacing:0.7px;transform:scaleX(0.792)">Ground</div>
<div class="t" style="left:67.50px;top:195.58px;font-size:15.5px;font-weight:normal;letter-spacing:0.7px;transform:scaleX(0.763)">6,1 x 9,7</div>
<div class="t" style="left:83.40px;top:216.08px;font-size:15.5px;font-weight:normal;letter-spacing:0.7px;transform:scaleX(0.780)">3,3</div>
<div class="t" style="left:129.83px;top:195.58px;font-size:15.5px;font-weight:normal;letter-spacing:0.7px;transform:scaleX(0.900)">2</div>
<div class="t" style="left:129.48px;top:216.08px;font-size:15.5px;font-weight:normal;letter-spacing:0.7px;transform:scaleX(0.900)">1</div>
<div class="t b" style="left:150.90px;top:206.46px;font-size:16px;font-weight:bold;letter-spacing:0.9px;transform:scaleX(0.753)">M3234GDA-SM</div>
<div class="t" style="left:251.30px;top:195.08px;font-size:15.5px;font-weight:normal;letter-spacing:0.7px;transform:scaleX(0.789)">SMCG 3/4 2-6.1x9.7MM</div>
<div class="t" style="left:251.30px;top:216.18px;font-size:15.5px;font-weight:normal;letter-spacing:0.7px;transform:scaleX(0.810)">1-3.3MM</div>
<div class="t" style="left:438.10px;top:205.08px;font-size:15.5px;font-weight:normal;letter-spacing:0.7px;transform:scaleX(0.777)">1.040</div>
<div class="t" style="left:476.20px;top:205.08px;font-size:15.5px;font-weight:normal;letter-spacing:0.7px;transform:scaleX(0.802)">26,4</div>
<div class="t" style="left:508.80px;top:205.08px;font-size:15.5px;font-weight:normal;letter-spacing:0.7px;transform:scaleX(0.818)">2.00</div>
<div class="t" style="left:540.00px;top:205.08px;font-size:15.5px;font-weight:normal;letter-spacing:0.7px;transform:scaleX(0.811)">50,8</div>
<div class="t" style="left:573.00px;top:205.08px;font-size:15.5px;font-weight:normal;letter-spacing:0.7px;transform:scaleX(0.811)">.62</div>
<div class="t" style="left:597.90px;top:205.08px;font-size:15.5px;font-weight:normal;letter-spacing:0.7px;transform:scaleX(0.821)">15,7</div>
<div class="t" style="left:633.50px;top:205.08px;font-size:15.5px;font-weight:normal;letter-spacing:0.7px;transform:scaleX(0.754)">.25</div>
<div class="t" style="left:663.90px;top:205.08px;font-size:15.5px;font-weight:normal;letter-spacing:0.7px;transform:scaleX(0.811)">6,4</div>
<div class="t" style="left:689.50px;top:205.08px;font-size:15.5px;font-weight:normal;letter-spacing:0.7px;transform:scaleX(0.774)">1.30</div>
<div class="t" style="left:721.50px;top:205.08px;font-size:15.5px;font-weight:normal;letter-spacing:0.7px;transform:scaleX(0.793)">33,0</div>
<div class="t b" style="left:287.12px;top:250.53px;font-size:15.2px;font-weight:bold;letter-spacing:0.9px;transform:scaleX(0.680)">B</div>
<div class="t b" style="left:353.67px;top:272.63px;font-size:15.2px;font-weight:bold;letter-spacing:0.9px;transform:scaleX(0.680)">C</div>
<div class="t b" style="left:315.87px;top:291.33px;font-size:15.2px;font-weight:bold;letter-spacing:0.9px;transform:scaleX(0.680)">D</div>
<div class="t b" style="left:406.05px;top:364.93px;font-size:15.2px;font-weight:bold;letter-spacing:0.9px;transform:scaleX(0.680)">E</div>
<div class="t b" style="left:567.92px;top:297.53px;font-size:15.2px;font-weight:bold;letter-spacing:0.9px;transform:scaleX(0.680)">A</div>
<div class="t b" style="left:164.20px;top:473.93px;font-size:15.2px;font-weight:bold;letter-spacing:0.9px;transform:scaleX(0.720)">SEALING NUT</div>
<div class="t b" style="left:351.10px;top:473.03px;font-size:15.2px;font-weight:bold;letter-spacing:0.9px;transform:scaleX(0.711)">INTEGRAL</div>
<div class="t b" style="left:351.10px;top:490.93px;font-size:15.2px;font-weight:bold;letter-spacing:0.9px;transform:scaleX(0.719)">SEALING RING</div>
<div class="t b" style="left:472.20px;top:448.33px;font-size:15.2px;font-weight:bold;letter-spacing:0.9px;transform:scaleX(0.703)">SUGGESTED CLEARANCE HOLE</div>
<div class="t b" style="left:472.20px;top:467.73px;font-size:15.2px;font-weight:bold;letter-spacing:0.9px;transform:scaleX(0.725)">FOR NONTHREADED MOUNTING</div>
</body></html>
